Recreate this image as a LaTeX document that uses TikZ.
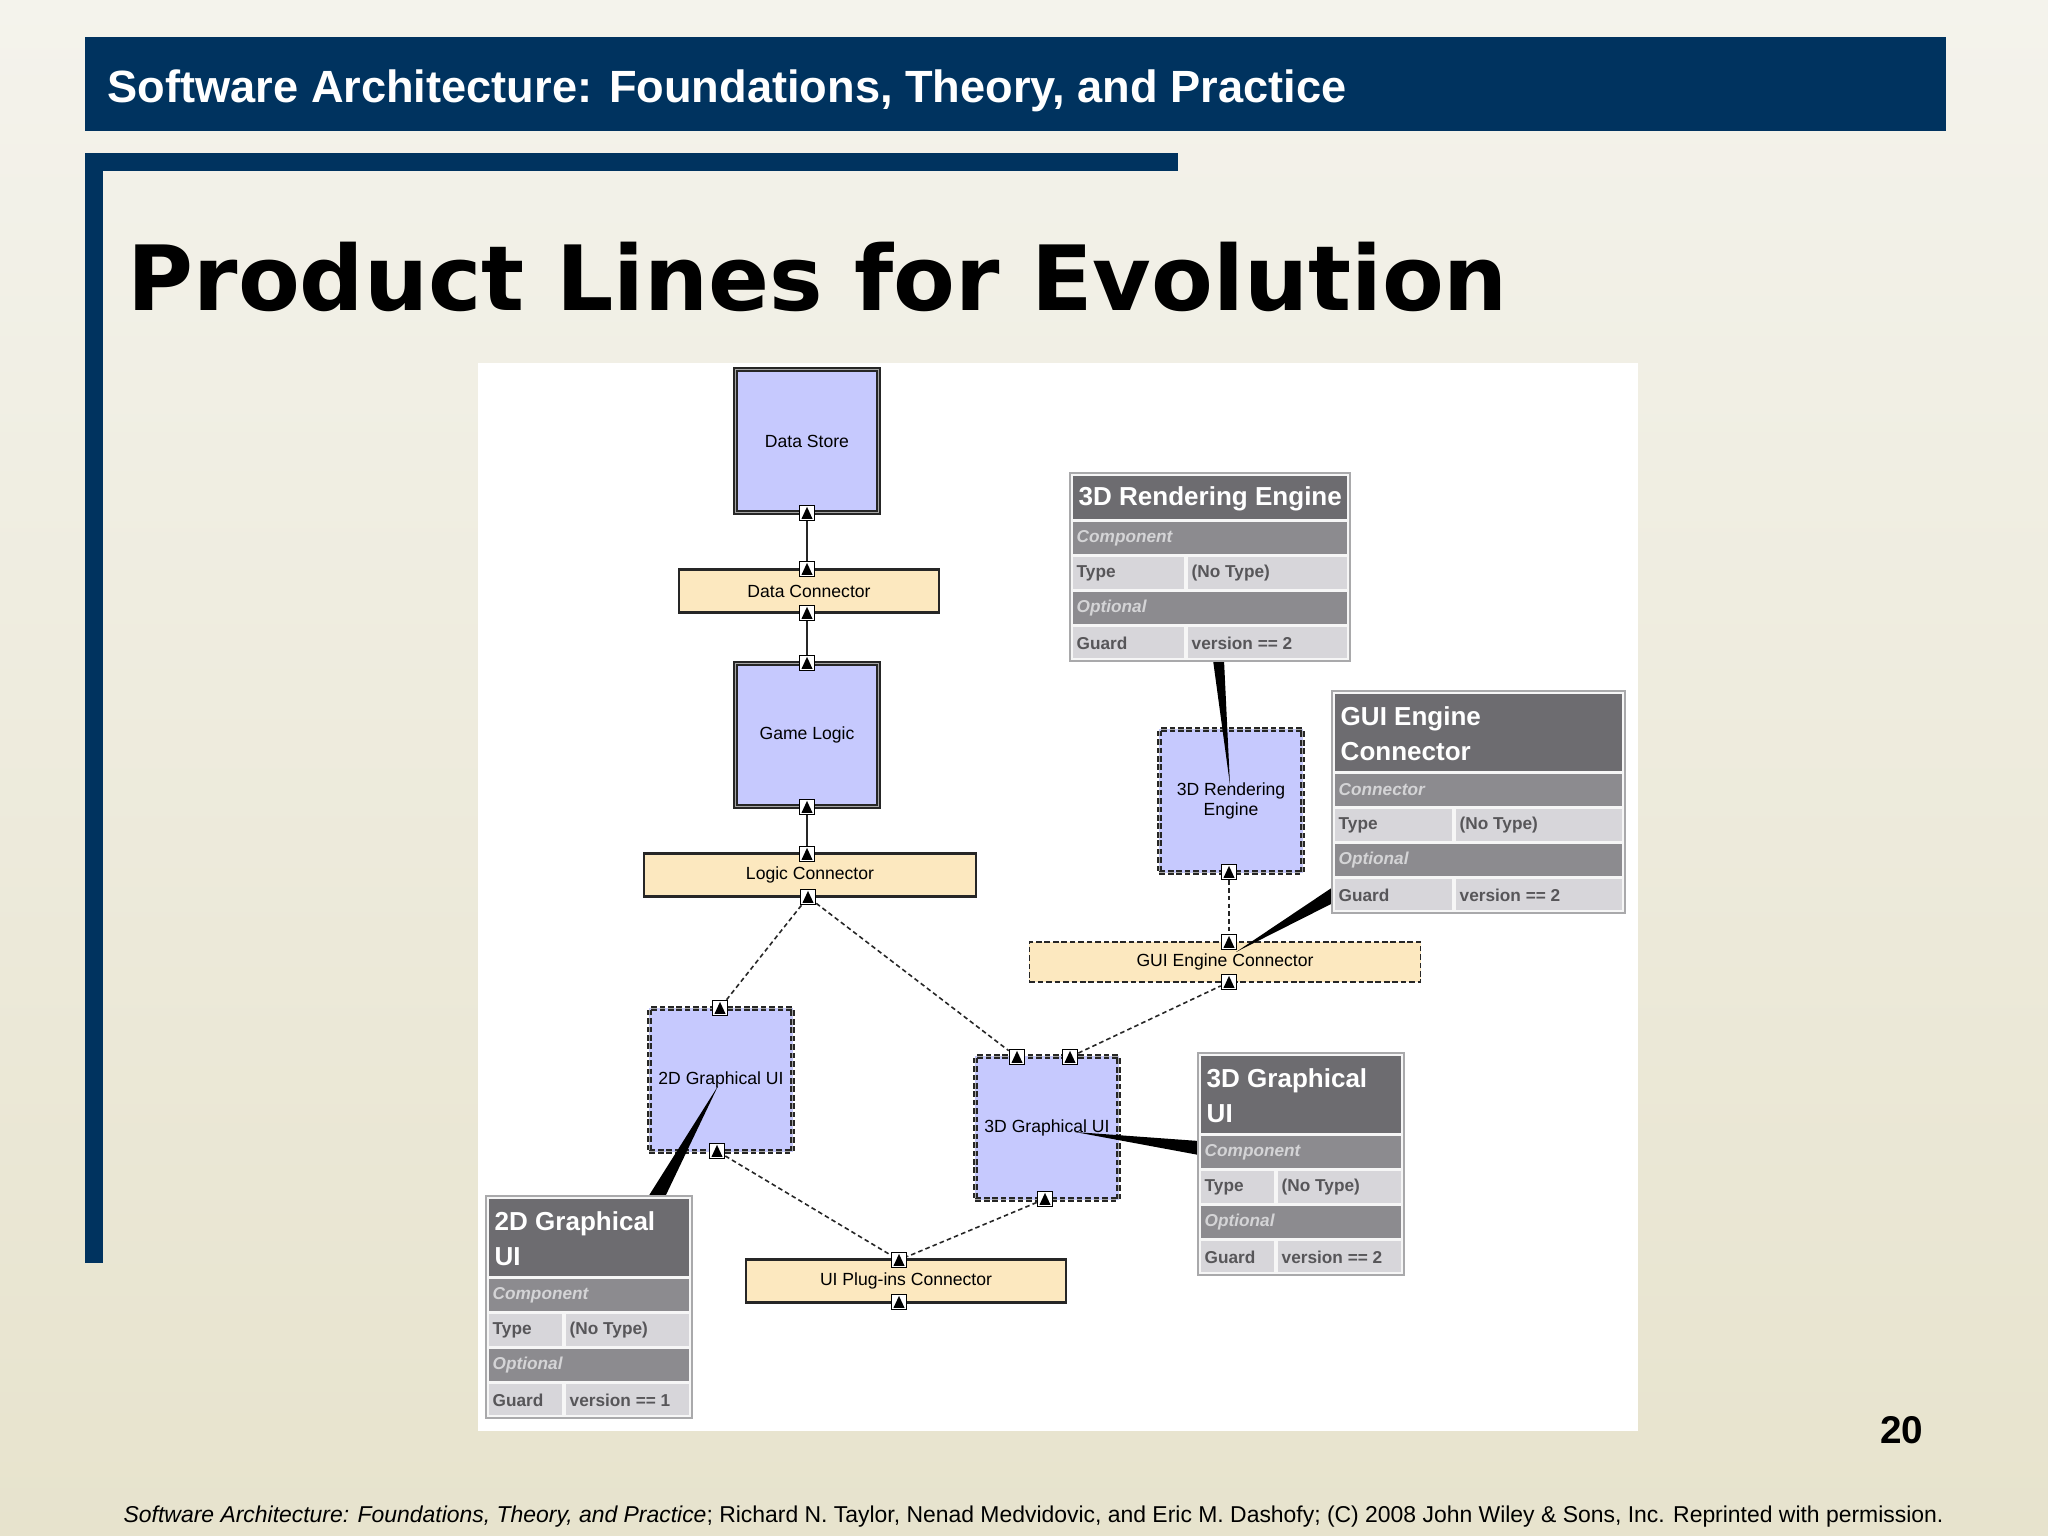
\documentclass[tikz,border=0pt]{standalone}
\usepackage{fontspec}
\setmainfont{Liberation Sans}
\newfontfamily\titlefont{DejaVu Sans}
\usetikzlibrary{positioning}
\definecolor{slide navy}{HTML}{00335F}
\definecolor{bg top}{HTML}{F4F3EC}
\definecolor{bg bottom}{HTML}{E7E3CD}
\definecolor{comp area}{HTML}{C6C9FE}
\definecolor{conn area}{HTML}{FCE8BF}
\definecolor{sheet head}{HTML}{6D6C70}
\definecolor{sheet sub}{HTML}{8C8B8F}
\definecolor{sheet cell}{HTML}{D7D6DA}
\definecolor{sheet rim}{HTML}{A9A9AB}
\definecolor{sheet text}{HTML}{575659}
\definecolor{sheet ital}{HTML}{D4D4D6}
\tikzset{boxlabel/.style={font=\fontsize{5}{5.6}\selectfont, align=center, inner sep=0},
	comp/.style={boxlabel, draw=black!85, double=black!35, double distance=0.5pt, line width=0.45pt,
		fill=comp area, minimum width=1.43cm, minimum height=1.43cm},
	optcomp/.style={comp, dash pattern=on 1.6pt off 0.8pt},
	conn/.style={boxlabel, draw=black!85, line width=0.6pt, fill=conn area, minimum height=0.43cm},
	optconn/.style={conn, line width=0.45pt, dash pattern=on 1.6pt off 0.8pt},
	port/.style={draw=black, fill=white, line width=0.45pt, minimum size=0.15cm, inner sep=0,
		path picture={\fill[black] ([shift={(0.55pt,0.45pt)}]path picture bounding box.south west)
			-- ([shift={(-0.55pt,0.45pt)}]path picture bounding box.south east)
			-- ([shift={(0,-0.4pt)}]path picture bounding box.north) -- cycle;}},
	link/.style={black!85, line width=0.45pt},
	optlink/.style={link, dash pattern=on 1.3pt off 0.9pt},
	callout/.style={fill=black},
	sheethead/.style={font=\bfseries\fontsize{7.4}{10}\selectfont, text=white, align=left, anchor=west, inner sep=0},
	sheetkind/.style={font=\bfseries\itshape\fontsize{4.9}{5}\selectfont, text=sheet ital, anchor=west, inner sep=0},
	sheetkey/.style={font=\bfseries\fontsize{4.9}{5}\selectfont, text=sheet text, anchor=west, inner sep=0}}
% #1 name, #2 x, #3 y, #4 width, #5 split, #6 title height, #7 title, #8 kind, #9 guard
\newcommand\propsheet[9]{%
	\begin{scope}[shift={(#2,#3)}]
		\fill[white!93!gray] (0,0) rectangle (#4,#6+142);
		\draw[sheet rim, line width=0.6pt] (0,0) rectangle (#4,#6+142);
		\fill[sheet head] (3,3) rectangle (#4-3,#6);
		\fill[sheet sub] (3,#6+3) rectangle (#4-3,#6+35);
		\fill[sheet cell] (3,#6+38) rectangle (#5-2,#6+70);
		\fill[sheet cell] (#5+2,#6+38) rectangle (#4-3,#6+70);
		\fill[sheet sub] (3,#6+73) rectangle (#4-3,#6+105);
		\fill[sheet cell] (3,#6+108) rectangle (#5-2,#6+139);
		\fill[sheet cell] (#5+2,#6+108) rectangle (#4-3,#6+139);
		\node[sheethead] (#1-title) at (8,#6/2+3) {#7};
		\node[sheetkind] (#1-kind) at (6,#6+19) {#8};
		\node[sheetkey] (#1-type) at (6,#6+54) {Type};
		\node[sheetkey] (#1-notype) at (#5+5,#6+54) {(No Type)};
		\node[sheetkind] (#1-opt) at (6,#6+89) {Optional};
		\node[sheetkey] (#1-guard) at (6,#6+124) {Guard};
		\node[sheetkey] (#1-ver) at (#5+5,#6+124) {#9};
	\end{scope}}

\begin{document}
\begin{tikzpicture}[x=0.01cm, y=-0.01cm]
	\useasboundingbox (0,0) rectangle (2048,1536);
	\shade[top color=bg top, bottom color=bg bottom] (0,0) rectangle (2048,1536);
	% slide frame
	\fill[slide navy] (85,37) rectangle (1946,131);
	\node[anchor=base west, inner sep=0, text=white, font=\bfseries\fontsize{12.85}{15}\selectfont] (header)
		at (107,102) {Software Architecture: Foundations, Theory, and Practice};
	\fill[slide navy] (85,153) rectangle (1178,171);
	\fill[slide navy] (85,153) rectangle (103,1263);
	\node[anchor=base west, inner sep=0, font=\titlefont\bfseries\fontsize{25.6}{30}\selectfont] (title)
		at (127,310) {Product Lines for Evolution};
	\node[anchor=base east, inner sep=0, font=\bfseries\fontsize{11}{13}\selectfont] (pageno) at (1924,1443) {20};
	\node[anchor=base west, inner sep=0, font=\fontsize{6.52}{8}\selectfont] (credit) at (123,1522)
		{\textit{Software Architecture: Foundations, Theory, and Practice}; Richard N. Taylor, Nenad Medvidovic, and Eric M. Dashofy; (C) 2008 John Wiley \& Sons, Inc. Reprinted with permission.};
	\fill[white] (478,363) rectangle (1638,1431);

	% architecture
	\node[comp] (ds) at (807,441) {Data Store};
	\node[conn, minimum width=2.60cm] (dc) at (809,591) {Data Connector};
	\node[comp] (gl) at (807,735) {Game Logic};
	\node[conn, minimum width=3.32cm] (lc) at (810,875) {Logic Connector};
	\node[optcomp] (gui2d) at (721,1080) {2D Graphical UI};
	\node[optcomp] (gui3d) at (1047,1128) {3D Graphical UI};
	\node[conn, minimum width=3.19cm] (uic) at (906,1281) {UI Plug-ins Connector};
	\node[optcomp] (re3d) at (1231,801) {3D Rendering\\Engine};
	\node[optconn, minimum width=3.91cm, minimum height=0.40cm] (gec) at (1225,962) {GUI Engine Connector};

	\node[port] (pDSs) at (807,513) {};
	\node[port] (pDCn) at (807,569) {};
	\node[port] (pDCs) at (807,613) {};
	\node[port] (pGLn) at (807,663) {};
	\node[port] (pGLs) at (807,807) {};
	\node[port] (pLCn) at (807,854) {};
	\node[port] (pLCs) at (808,897) {};
	\node[port] (p2Dn) at (720,1008) {};
	\node[port] (p2Ds) at (717,1151) {};
	\node[port] (p3Dnw) at (1017,1057) {};
	\node[port] (p3Dne) at (1070,1057) {};
	\node[port] (p3Ds) at (1045,1199) {};
	\node[port] (pUIn) at (899,1260) {};
	\node[port] (pUIs) at (899,1302) {};
	\node[port] (pREs) at (1229,872) {};
	\node[port] (pGEn) at (1229,942) {};
	\node[port] (pGEs) at (1229,982) {};

	\draw[link] (pDSs) -- (pDCn);
	\draw[link] (pDCs) -- (pGLn);
	\draw[link] (pGLs) -- (pLCn);
	\draw[optlink] (pLCs) -- (p2Dn);
	\draw[optlink] (pLCs) -- (p3Dnw);
	\draw[optlink] (p3Dne) -- (pGEs);
	\draw[optlink] (pREs) -- (pGEn);
	\draw[optlink] (p2Ds) -- (pUIn);
	\draw[optlink] (p3Ds) -- (pUIn);

	% callouts
	\coordinate (reTip) at (1230,785);
	\coordinate (geTip) at (1236,952);
	\coordinate (g3Tip) at (1075,1132);
	\coordinate (g2Tip) at (718,1086);
	\fill[callout] (1213,660) -- (1224,660) -- (reTip) -- cycle;
	\fill[callout] (1333,887) -- (1333,903) -- (geTip) -- cycle;
	\fill[callout] (1199,1141) -- (1199,1155) -- (g3Tip) -- cycle;
	\fill[callout] (648,1197) -- (665,1197) -- (g2Tip) -- cycle;

	% property sheets
	\propsheet{reSheet}{1070}{473}{280}{116}{46}{3D Rendering Engine}{Component}{version == 2}
	\propsheet{geSheet}{1332}{691}{293}{122}{80}{GUI Engine\\Connector}{Connector}{version == 2}
	\propsheet{g3Sheet}{1198}{1053}{206}{78}{80}{3D Graphical\\UI}{Component}{version == 2}
	\propsheet{g2Sheet}{486}{1196}{206}{78}{80}{2D Graphical\\UI}{Component}{version == 1}
\end{tikzpicture}
\end{document}
